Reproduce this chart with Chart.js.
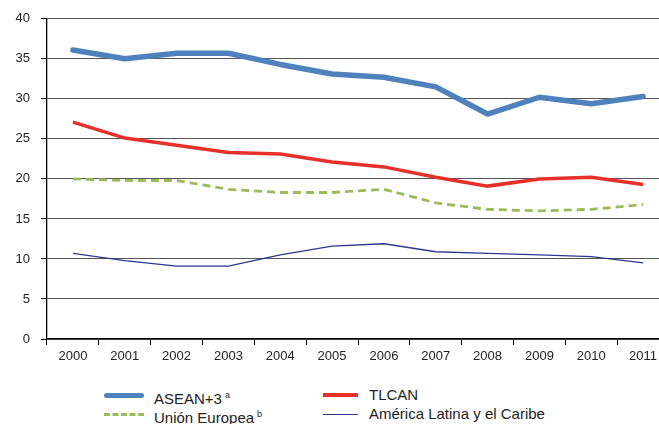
<!DOCTYPE html>
<html>
<head>
<meta charset="utf-8">
<script src="https://cdn.jsdelivr.net/npm/chart.js@4.4.1/dist/chart.umd.min.js"></script>
<style>
  html, body { margin: 0; padding: 0; background: #fff; overflow: hidden; width: 659px; height: 424px; }
  #wrap { position: absolute; left: 0; top: 0; width: 672px; height: 372px; }
  .legend { position: absolute; font-family: "Liberation Sans", Arial, sans-serif; font-size: 15px; color: #222; }
  .item { position: absolute; white-space: nowrap; height: 18px; line-height: 18px; }
  .sample { position: absolute; top: 9px; width: 40px; }
  .label { position: absolute; left: 50px; top: 0; }
  sup { font-size: 9px; vertical-align: 6px; margin-left: 3px; }
</style>
</head>
<body>
<div id="wrap"><canvas id="chart"></canvas></div>
<div class="legend">
  <div class="item" style="left:104px; top:386px;">
    <span class="sample" style="height:5px; margin-top:-2.5px; background:#4f81bd; border-radius:3px;"></span>
    <span class="label">ASEAN+3<sup>a</sup></span>
  </div>
  <div class="item" style="left:323px; top:386px;">
    <span class="sample" style="width:35px; height:4px; margin-top:-2px; background:#e8302a;"></span>
    <span class="label" style="left:46px;">TLCAN</span>
  </div>
  <div class="item" style="left:104px; top:405px;">
    <span class="sample" style="height:0; margin-top:-1.5px; border-top:3px dashed #9bbb59;"></span>
    <span class="label">Unión Europea<sup>b</sup></span>
  </div>
  <div class="item" style="left:323px; top:405px;">
    <span class="sample" style="width:35px; height:0; margin-top:-0.5px; border-top:1.3px solid #2b3990;"></span>
    <span class="label" style="left:46px;">América Latina y el Caribe</span>
  </div>
</div>
<script>
const years = ['2000', '2001', '2002', '2003', '2004', '2005', '2006', '2007', '2008', '2009', '2010', '2011'];
const asean = [36.1, 35.0, 35.7, 35.7, 34.3, 33.1, 32.7, 31.5, 28.1, 30.2, 29.4, 30.3];
const tlcan = [27.1, 25.1, 24.2, 23.3, 23.1, 22.1, 21.5, 20.2, 19.1, 20.0, 20.2, 19.3];
const unionEuropea = [20.0, 19.8, 19.8, 18.7, 18.3, 18.3, 18.7, 17.0, 16.2, 16.0, 16.2, 16.8];
const americaLatina = [10.7, 9.8, 9.1, 9.1, 10.5, 11.6, 11.9, 10.9, 10.7, 10.5, 10.3, 9.5];
const yTicks = [0, 5, 10, 15, 20, 25, 30, 35, 40];

const tickFont = { family: '"Liberation Sans", Arial, sans-serif', size: 13 };

new Chart(document.getElementById('chart'), {
    type: 'line',
    data: {
        labels: years,
        datasets: [
            { label: 'ASEAN+3', data: asean, borderColor: '#4f81bd', borderWidth: 5.5, borderCapStyle: 'round', borderJoinStyle: 'round' },
            { label: 'TLCAN', data: tlcan, borderColor: '#e8302a', borderWidth: 3.5 },
            { label: 'Unión Europea', data: unionEuropea, borderColor: '#9bbb59', borderWidth: 2.8, borderDash: [8, 5] },
            { label: 'América Latina y el Caribe', data: americaLatina, borderColor: '#2b3990', borderWidth: 1.3 }
        ]
    },
    options: {
        responsive: true,
        maintainAspectRatio: false,
        animation: false,
        elements: { point: { radius: 0 }, line: { tension: 0 } },
        layout: { padding: { top: 18, right: 3, left: 0, bottom: 0 } },
        plugins: { legend: { display: false }, tooltip: { enabled: false } },
        scales: {
            x: {
                offset: true,
                grid: { offset: true, drawOnChartArea: false, drawTicks: true, tickLength: 6, color: '#000', tickColor: '#000' },
                border: { color: '#000', width: 1.3 },
                ticks: { color: '#222', font: tickFont, padding: 4, maxRotation: 0, autoSkip: false },
                afterFit: scale => { scale.height = 33; }
            },
            y: {
                min: 0,
                max: 40,
                afterBuildTicks: scale => { scale.ticks = yTicks.map(v => ({ value: v })); },
                grid: { color: '#555', borderDash: [7, 4], tickLength: 6, tickColor: '#000', tickBorderDash: [] },
                border: { color: '#000', width: 1.3 },
                ticks: { color: '#222', font: tickFont, padding: 11 },
                afterFit: scale => { scale.width = 47; }
            }
        }
    }
});
</script>
</body>
</html>
